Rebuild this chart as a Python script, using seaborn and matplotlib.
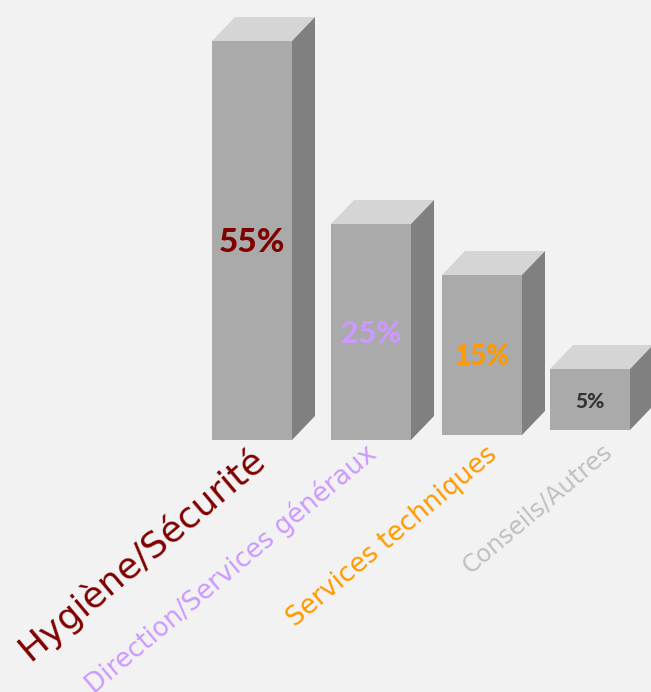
"""Faux-3D bar chart of the distribution by department."""
import matplotlib.pyplot as plt
import pandas as pd
import seaborn as sns
from matplotlib.patches import Polygon

categories = ["Hygiène/Sécurité", "Direction/Services généraux", "Services techniques", "Conseils/Autres"]
percents = [55, 25, 15, 5]
# the bars in the picture are not to scale, so heights are read off it separately
bar_heights = [399, 216, 160, 61]
bar_bases = [252, 252, 257, 262]
bar_centers = [252, 371, 482, 590]
text_colors = ["#800000", "#cc99ff", "#ff9900", "#c0c0c0"]
pct_colors = ["#800000", "#cc99ff", "#ff9900", "#333333"]
pct_sizes = [24, 22, 20, 15]
label_sizes = [26, 18.8, 19, 17.5]
label_ends = [(260, 454), (373, 450), (494, 451), (609, 448)]

BG = "#f2f2f2"
FRONT = "#aaaaaa"
TOP = "#d5d5d5"
SIDE = "#808080"
DEPTH_X = 23
DEPTH_Y = 24

sns.set_theme(style="white")
plt.rcParams["font.family"] = ["DejaVu Sans"]

df = pd.DataFrame({"center": bar_centers, "height": bar_heights, "base": bar_bases})

fig = plt.figure(figsize=(6.51, 6.92), dpi=100, facecolor=BG)
ax = fig.add_axes([0, 0, 1, 1])
ax.set_facecolor(BG)

sns.barplot(data=df, x="center", y="height", native_scale=True, width=80 / 108,
            color=FRONT, saturation=1, bottom=df["base"], linewidth=0, ax=ax)
ax.set_xlim(0, 651)
ax.set_ylim(0, 692)
ax.axis("off")

for i, bar in enumerate(list(ax.patches)):
    x0, x1 = bar.get_x(), bar.get_x() + bar.get_width()
    y0, y1 = bar.get_y(), bar.get_y() + bar.get_height()
    ax.add_patch(Polygon([(x0, y1), (x1, y1), (x1 + DEPTH_X, y1 + DEPTH_Y), (x0 + DEPTH_X, y1 + DEPTH_Y)],
                         facecolor=TOP, edgecolor="none", clip_on=False))
    ax.add_patch(Polygon([(x1, y0), (x1 + DEPTH_X, y0 + DEPTH_Y), (x1 + DEPTH_X, y1 + DEPTH_Y), (x1, y1)],
                         facecolor=SIDE, edgecolor="none", clip_on=True))
    ax.text((x0 + x1) / 2, (y0 + y1) / 2 - 2, f"{percents[i]}%", color=pct_colors[i], ha="center", va="center",
            fontsize=pct_sizes[i], fontweight="black", family=["Lato", "DejaVu Sans"])
    # rotated category name under the bar
    ex, ey = label_ends[i]
    ax.text(ex, 692 - ey, categories[i], color=text_colors[i], fontsize=label_sizes[i], rotation=40,
            rotation_mode="anchor", ha="right", va="center")

fig.savefig("out.png", dpi=100, facecolor=BG)
